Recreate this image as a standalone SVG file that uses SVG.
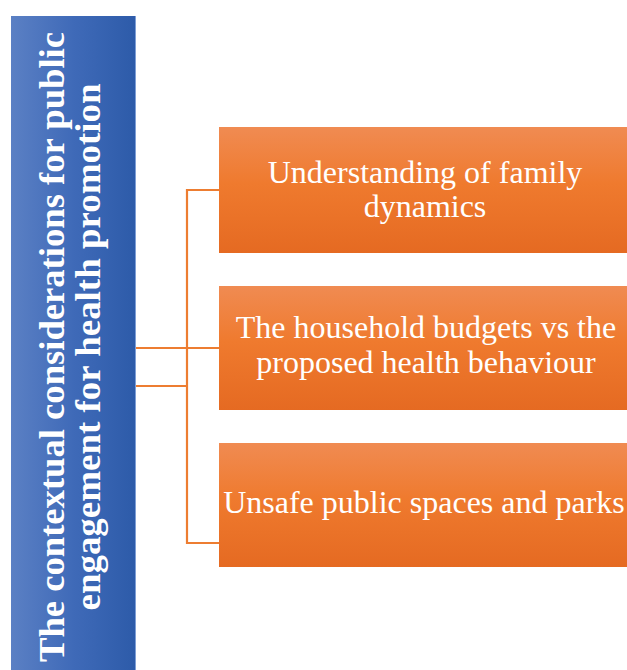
<svg xmlns="http://www.w3.org/2000/svg" width="627" height="670" viewBox="0 0 627 670">
  <defs>
    <linearGradient id="blueGrad" x1="0" y1="0" x2="1" y2="0">
      <stop offset="0" stop-color="#5B80C4"/>
      <stop offset="0.5" stop-color="#3F6AB8"/>
      <stop offset="1" stop-color="#2D5BA9"/>
    </linearGradient>
    <linearGradient id="orangeGrad" x1="0" y1="0" x2="0" y2="1">
      <stop offset="0" stop-color="#F08B52"/>
      <stop offset="0.45" stop-color="#EF7A2E"/>
      <stop offset="1" stop-color="#E56A22"/>
    </linearGradient>
    <style>
      .box { fill: url(#orangeGrad); }
      .boxText { font-family: "Liberation Serif", "Times New Roman", serif; font-size: 32px; fill: #FFFFFF; text-anchor: middle; }
      .mainText { font-family: "Liberation Serif", "Times New Roman", serif; font-size: 36px; font-weight: bold; fill: #FFFFFF; text-anchor: middle; }
      .conn { stroke: #ED7D31; stroke-width: 2.2; fill: none; }
    </style>
  </defs>
  <rect width="627" height="670" fill="#FFFFFF"/>

  <g id="main">
    <rect x="11" y="16" width="125" height="662" fill="url(#blueGrad)"/>
    <line x1="135.5" y1="16" x2="135.5" y2="670" stroke="#7F9FD6" stroke-width="1"/>
    <text class="mainText" transform="translate(64,347) rotate(-90)" textLength="630" lengthAdjust="spacingAndGlyphs">The contextual considerations for public</text>
    <text class="mainText" transform="translate(100,347) rotate(-90)" textLength="527" lengthAdjust="spacingAndGlyphs">engagement for health promotion</text>
  </g>

  <g id="connectors">
    <line class="conn" x1="187" y1="189" x2="187" y2="544"/>
    <line class="conn" x1="186" y1="190" x2="219" y2="190"/>
    <line class="conn" x1="136" y1="348" x2="219" y2="348"/>
    <line class="conn" x1="136" y1="386" x2="188" y2="386"/>
    <line class="conn" x1="186" y1="543" x2="219" y2="543"/>
  </g>

  <g id="node1">
    <rect class="box" x="219" y="127" width="412" height="126"/>
    <text class="boxText" x="425" y="183">Understanding of family</text>
    <text class="boxText" x="425" y="217">dynamics</text>
  </g>

  <g id="node2">
    <rect class="box" x="219" y="286" width="412" height="124"/>
    <text class="boxText" x="426" y="338">The household budgets vs the</text>
    <text class="boxText" x="426" y="373">proposed health behaviour</text>
  </g>

  <g id="node3">
    <rect class="box" x="219" y="443" width="412" height="124"/>
    <text class="boxText" x="424" y="513">Unsafe public spaces and parks</text>
  </g>
</svg>
